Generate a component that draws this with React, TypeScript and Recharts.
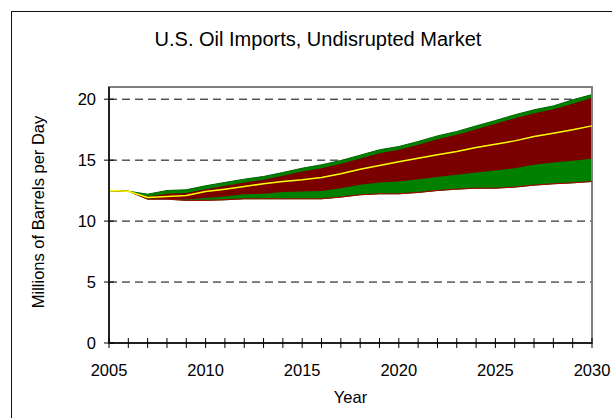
import {
  Area,
  CartesianGrid,
  ComposedChart,
  Line,
  ReferenceArea,
  XAxis,
  YAxis,
} from "recharts";

const years = [
  2005, 2006, 2007, 2008, 2009, 2010, 2011, 2012, 2013, 2014, 2015, 2016, 2017,
  2018, 2019, 2020, 2021, 2022, 2023, 2024, 2025, 2026, 2027, 2028, 2029, 2030,
];
// lower edge of the band (thin red line)
const low = [
  12.5, 12.45, 11.8, 11.8, 11.7, 11.7, 11.75, 11.83, 11.83, 11.83, 11.83, 11.83,
  11.97, 12.16, 12.24, 12.24, 12.35, 12.51, 12.62, 12.7, 12.7, 12.79, 12.95,
  13.06, 13.14, 13.25,
];
// top of the lower green band
const lowMid = [
  12.5, 12.45, 11.85, 11.82, 11.78, 11.89, 12.02, 12.21, 12.24, 12.38, 12.43,
  12.46, 12.7, 12.98, 13.17, 13.25, 13.44, 13.61, 13.8, 13.99, 14.15, 14.34,
  14.62, 14.81, 14.95, 15.11,
];
const median = [
  12.5, 12.45, 11.93, 12.02, 12.1, 12.43, 12.62, 12.84, 13.06, 13.25, 13.39,
  13.58, 13.88, 14.26, 14.56, 14.86, 15.16, 15.44, 15.71, 16.04, 16.31, 16.58,
  16.94, 17.21, 17.49, 17.81,
];
// top of the dark red band
const highMid = [
  12.5, 12.45, 12.02, 12.24, 12.3, 12.62, 12.9, 13.17, 13.39, 13.72, 14.07,
  14.34, 14.7, 15.14, 15.57, 15.85, 16.26, 16.72, 17.08, 17.54, 17.98, 18.44,
  18.85, 19.18, 19.62, 20.11,
];
const high = [
  12.5, 12.45, 12.21, 12.51, 12.57, 12.9, 13.17, 13.44, 13.66, 13.99, 14.34,
  14.62, 14.97, 15.41, 15.85, 16.12, 16.53, 16.99, 17.35, 17.81, 18.25, 18.72,
  19.13, 19.45, 19.95, 20.38,
];
const yTicks = [0, 5, 10, 15, 20];

const FONT = '"Liberation Sans", Arial, sans-serif';

const rows = years.map((year, i) => ({
  year,
  outer: [low[i], high[i]],
  inner: [lowMid[i], highMid[i]],
  low: low[i],
  median: median[i],
}));

function XTick(props: { x?: number; y?: number; payload?: { value: number } }) {
  const { x = 0, y = 0, payload } = props;
  const v = payload?.value ?? 0;
  return (
    <g>
      <line x1={x} x2={x} y1={y - 5} y2={y + 5} stroke="#000" strokeWidth={1} />
      {v % 5 === 0 ? (
        <text x={x} y={y + 33} textAnchor="middle" fontSize={16.5} fontFamily={FONT} fill="#000">
          {v}
        </text>
      ) : null}
    </g>
  );
}

function YTick(props: { x?: number; y?: number; payload?: { value: number } }) {
  const { x = 0, y = 0, payload } = props;
  // x arrives 13px left of the axis line (tickMargin)
  const ax = x + 13;
  return (
    <g>
      <line x1={ax - 5} x2={ax + 5} y1={y} y2={y} stroke="#000" strokeWidth={1} />
      <text x={x} y={y + 6} textAnchor="end" fontSize={16.5} fontFamily={FONT} fill="#000">
        {payload?.value}
      </text>
    </g>
  );
}

export default function App() {
  return (
    <div
      style={{
        position: "absolute",
        left: 0,
        top: 0,
        width: 612,
        height: 418,
        overflow: "hidden",
        background: "#fff",
        fontFamily: FONT,
      }}
    >
      <div
        style={{
          position: "absolute",
          left: 11,
          top: 11,
          width: 700,
          height: 500,
          border: "1px solid #111",
        }}
      />
      <div
        style={{
          position: "absolute",
          left: 0,
          top: 29,
          width: 636,
          textAlign: "center",
          fontSize: 20,
          lineHeight: "20px",
          color: "#000",
        }}
      >
        U.S. Oil Imports, Undisrupted Market
      </div>
      <div style={{ position: "absolute", left: 0, top: 0 }}>
        <ComposedChart
          width={612}
          height={418}
          data={rows}
          margin={{ top: 87, right: 20, bottom: 15, left: 49 }}
        >
          <CartesianGrid horizontal vertical={false} stroke="#000" strokeDasharray="8 5" />
          <XAxis
            type="number"
            dataKey="year"
            domain={[2005, 2030]}
            ticks={years}
            interval={0}
            height={60}
            tickSize={0}
            tickMargin={0}
            tick={<XTick />}
            axisLine={{ stroke: "#222", strokeWidth: 2 }}
            label={{
              value: "Year",
              position: "center",
              dy: 24,
              fontSize: 16.5,
              fontFamily: FONT,
              fill: "#000",
            }}
          />
          <YAxis
            type="number"
            domain={[0, 21]}
            ticks={yTicks}
            interval={0}
            width={60}
            tickSize={0}
            tickMargin={13}
            tick={<YTick />}
            axisLine={{ stroke: "#222", strokeWidth: 2 }}
            label={{
              value: "Millions of Barrels per Day",
              position: "center",
              angle: -90,
              dx: -41,
              dy: -3,
              fontSize: 16.5,
              fontFamily: FONT,
              fill: "#000",
            }}
          />
          <Area
            type="linear"
            dataKey="outer"
            fill="#008000"
            fillOpacity={1}
            stroke="#006400"
            strokeWidth={1}
            isAnimationActive={false}
          />
          <Area
            type="linear"
            dataKey="inner"
            fill="#7a0000"
            fillOpacity={1}
            stroke="none"
            isAnimationActive={false}
          />
          <Line
            type="linear"
            dataKey="low"
            stroke="#b00000"
            strokeWidth={1}
            dot={false}
            isAnimationActive={false}
          />
          <Line
            type="linear"
            dataKey="median"
            stroke="#ffff00"
            strokeWidth={1.5}
            dot={false}
            isAnimationActive={false}
          />
          <ReferenceArea
            x1={2005}
            x2={2030}
            y1={0}
            y2={21}
            fill="none"
            stroke="#808080"
            strokeWidth={2}
          />
        </ComposedChart>
      </div>
    </div>
  );
}
